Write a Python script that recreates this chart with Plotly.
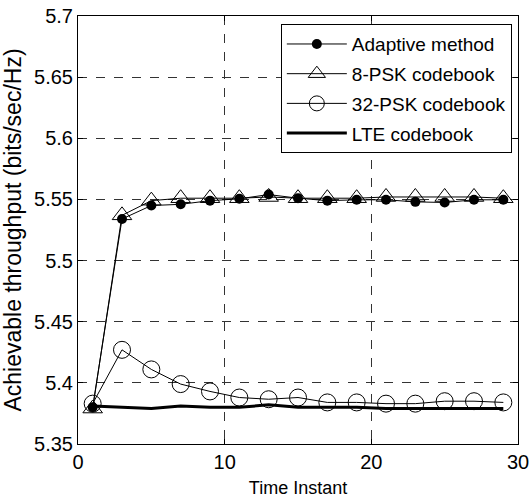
import plotly.graph_objects as go

time_instants = [1, 3, 5, 7, 9, 11, 13, 15, 17, 19, 21, 23, 25, 27, 29]
adaptive = [5.380, 5.534, 5.545, 5.546, 5.549, 5.5505, 5.554, 5.551, 5.549, 5.5497, 5.5497, 5.548, 5.5475, 5.5497, 5.5497]
psk8 = [5.379, 5.537, 5.549, 5.551, 5.551, 5.551, 5.552, 5.551, 5.551, 5.551, 5.552, 5.552, 5.552, 5.552, 5.551]
psk32 = [5.383, 5.427, 5.411, 5.399, 5.393, 5.388, 5.3866, 5.388, 5.384, 5.384, 5.383, 5.383, 5.385, 5.385, 5.384]
lte = [5.381, 5.380, 5.379, 5.381, 5.380, 5.380, 5.382, 5.380, 5.380, 5.380, 5.379, 5.379, 5.379, 5.379, 5.379]

names = ["Adaptive method", "8-PSK codebook", "32-PSK codebook", "LTE codebook"]
y_ticks = [5.35, 5.4, 5.45, 5.5, 5.55, 5.6, 5.65, 5.7]
y_tick_labels = ["5.35", "5.4", "5.45", "5.5", "5.55", "5.6", "5.65", "5.7"]
x_ticks = [0, 10, 20, 30]

FONT = "Liberation Sans, Arial, sans-serif"

fig = go.Figure()
fig.add_trace(go.Scatter(x=time_instants, y=lte, name=names[3], mode="lines",
                         line=dict(color="black", width=3), showlegend=False))
fig.add_trace(go.Scatter(x=time_instants, y=psk32, name=names[2], mode="lines+markers",
                         line=dict(color="black", width=1),
                         marker=dict(symbol="circle-open", size=17, color="black", line=dict(width=1)),
                         showlegend=False))
fig.add_trace(go.Scatter(x=time_instants, y=psk8, name=names[1], mode="lines+markers",
                         line=dict(color="black", width=1),
                         marker=dict(symbol="triangle-up-open", size=17, color="black", line=dict(width=1)),
                         showlegend=False))
fig.add_trace(go.Scatter(x=time_instants, y=adaptive, name=names[0], mode="lines+markers",
                         line=dict(color="black", width=1),
                         marker=dict(symbol="circle", size=10, color="black"),
                         showlegend=False))

# legend entries in reference order
leg_styles = [
    dict(mode="lines+markers", line=dict(color="black", width=1), marker=dict(symbol="circle", size=10, color="black")),
    dict(mode="lines+markers", line=dict(color="black", width=1), marker=dict(symbol="triangle-up-open", size=15, color="black", line=dict(width=1))),
    dict(mode="lines+markers", line=dict(color="black", width=1), marker=dict(symbol="circle-open", size=15, color="black", line=dict(width=1))),
    dict(mode="lines", line=dict(color="black", width=3)),
]
for i, (n, st) in enumerate(zip(names, leg_styles)):
    fig.add_trace(go.Scatter(x=[None], y=[None], name=n, showlegend=True, legendgroup=f"g{i}", **st))

axis_common = dict(showline=True, linecolor="black", linewidth=1, mirror="ticks",
                   ticks="inside", ticklen=5, tickcolor="black",
                   showgrid=True, gridcolor="#333333", gridwidth=1, griddash="dash",
                   zeroline=False, automargin=False,
                   tickfont=dict(family=FONT, size=20, color="black"))

fig.update_xaxes(range=[0, 30], tickvals=x_ticks, **axis_common,
                 title=dict(text="Time Instant", font=dict(family=FONT, size=18, color="black"), standoff=9))
fig.update_yaxes(range=[5.35, 5.7], tickvals=y_ticks, ticktext=y_tick_labels, **axis_common,
                 title=dict(text="Achievable throughput (bits/sec/Hz)", font=dict(family=FONT, size=23, color="black"), standoff=7))

fig.update_layout(
    width=531, height=503,
    margin=dict(l=78, r=13, t=16, b=59),
    plot_bgcolor="white", paper_bgcolor="white",
    font=dict(family=FONT, color="black"),
    legend=dict(x=0.461, y=0.981, xanchor="left", yanchor="top",
                bgcolor="white", bordercolor="black", borderwidth=1,
                font=dict(family=FONT, size=19, color="black"),
                itemwidth=60,
                traceorder="grouped", tracegroupgap=2),
)

fig.write_html("out.html", config={"displayModeBar": False},
               post_script="document.body.style.margin='0';document.body.style.padding='0';document.body.style.overflow='hidden';")
